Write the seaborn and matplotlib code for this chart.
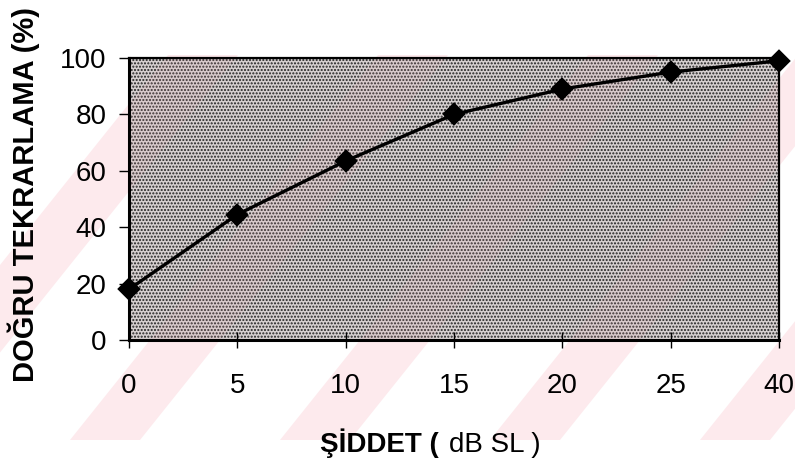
import matplotlib
matplotlib.use("Agg")
import matplotlib.pyplot as plt
import seaborn as sns
import pandas as pd
from matplotlib.patches import Rectangle, Polygon

# data
intensity = ["0", "5", "10", "15", "20", "25", "40"]
correct = [18, 44.5, 63.5, 80, 89, 95, 99]
yticks = [0, 20, 40, 60, 80, 100]

sns.set_theme(style="white")
plt.rcParams['font.family'] = ['Liberation Sans', 'DejaVu Sans']
plt.rcParams['text.color'] = 'black'
plt.rcParams['xtick.color'] = 'black'
plt.rcParams['ytick.color'] = 'black'
plt.rcParams['xtick.labelcolor'] = 'black'
plt.rcParams['ytick.labelcolor'] = 'black'

W, H = 795, 462
fig = plt.figure(figsize=(W / 100, H / 100), dpi=100)


def band(x_bottom, width=70, y0=440, y1=55, slope=0.8):
    dx = (y0 - y1) * slope
    pts = [(x_bottom, y0), (x_bottom + width, y0), (x_bottom + width + dx, y1), (x_bottom + dx, y1)]
    return [(px / W, 1 - py / H) for px, py in pts]


band_starts = [-140, 70, 280, 490, 700]
for xb in band_starts:
    fig.patches.append(Polygon(band(xb), closed=True, transform=fig.transFigure,
                               facecolor='#fdeaed', edgecolor='none', zorder=-1))

ax = fig.add_axes([129 / W, 1 - 340 / H, 650 / W, 282 / H])
ax.set_facecolor('#d6d0d0')
ax.add_patch(Rectangle((0, 0), 1, 1, transform=ax.transAxes, facecolor='none',
                       edgecolor='#202020', hatch='.....', linewidth=0, zorder=0.2))
for xb in band_starts:
    p = Polygon(band(xb), closed=True, transform=fig.transFigure,
                facecolor='#e8a0a8', edgecolor='none', alpha=0.12, zorder=0.3)
    ax.add_patch(p)
    p.set_clip_path(ax.patch)

df = pd.DataFrame({"x": intensity, "y": correct})
sns.pointplot(data=df, x="x", y="y", order=intensity, color='black', markers='D',
              markersize=10.5, linewidth=2.4, ax=ax)
for coll in ax.collections:
    coll.set_clip_on(False)
    coll.set_zorder(6)
for ln in ax.lines:
    ln.set_clip_on(False)
    ln.set_zorder(5)

ax.set_xlim(0, len(intensity) - 1)
ax.set_ylim(0, 100)
ax.set_yticks(yticks)
ax.set_yticklabels([str(v) for v in yticks], fontsize=20, color='black')
ax.set_xticks(range(len(intensity)))
ax.set_xticklabels(intensity, fontsize=20, color='black')
ax.tick_params(axis='y', direction='out', length=7, width=1, color='black', pad=9, left=True)
ax.tick_params(axis='x', direction='inout', length=12, width=1, color='black', pad=18, bottom=True)

for s in ['left', 'bottom']:
    ax.spines[s].set_color('black')
    ax.spines[s].set_linewidth(2.2)
for s in ['top', 'right']:
    ax.spines[s].set_color('black')
    ax.spines[s].set_linewidth(1.6)

ax.set_ylabel("")
ax.set_xlabel("")
fig.text(24 / W, 1 - 194 / H, "DOĞRU TEKRARLAMA (%)", fontsize=21, fontweight='bold',
         rotation=90, ha='center', va='center', color='black')
fig.text(447 / W, 10 / H, "ŞİDDET ( ", fontsize=20, fontweight='bold', ha='right',
         va='baseline', color='black')
fig.text(449 / W, 10 / H, "dB SL )", fontsize=20, ha='left', va='baseline', color='black')

fig.savefig("out.png", dpi=100)
